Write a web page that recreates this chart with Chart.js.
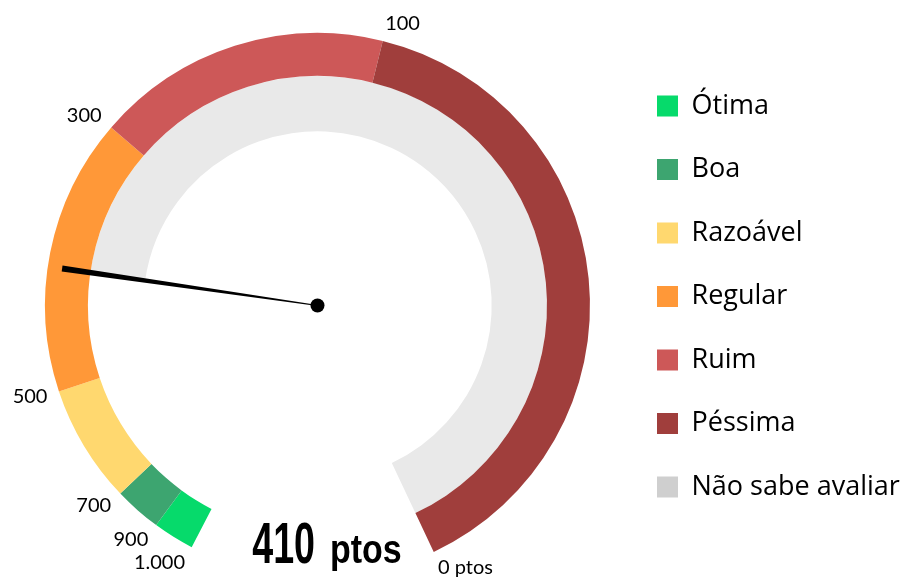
<!DOCTYPE html>
<html>
<head>
<meta charset="utf-8">
<script src="https://cdn.jsdelivr.net/npm/chart.js@4.4.1/dist/chart.umd.min.js"></script>
<style>
  body { margin: 0; background: #fff; }
  canvas { display: block; }
</style>
</head>
<body>
<canvas id="gauge" width="904" height="579"></canvas>
<script>
// bands of the dial, from 1.000 (start) to 0 ptos (end)
const categories = ["Ótima", "Boa", "Razoável", "Regular", "Ruim", "Péssima"];
const bandShares = [8.8, 10.05, 25.25, 59.2, 63.05, 140.9];
const bandColors = ["#06da6b", "#3da570", "#ffd86f", "#ff9838", "#cd5858", "#a03e3c"];

// tick labels sit on the band edges
const tickValues = [1000, 900, 700, 500, 300, 100, 0];
const tickLabels = ["1.000", "900", "700", "500", "300", "100", "0 ptos"];

// the score and the "don't know" ring
const score = 410;
const unknownLabel = "Não sabe avaliar";
const unknownColor = "#cfcfcf";
const ringGray = "#e9e9e9";

// how much of the dial lies between 1.000 and the score
function shareBefore(value) {
  let s = 0;
  for (let i = 0; i < bandShares.length; i++) {
    const hi = tickValues[i];
    const lo = tickValues[i + 1];
    if (value <= lo) {
      s += bandShares[i];
    } else {
      s += bandShares[i] * (hi - value) / (hi - lo);
      break;
    }
  }
  return s;
}

const totalShare = bandShares.reduce((a, b) => a + b, 0);
const before = shareBefore(score);
const scoreRing = [before, totalShare - before];

const legendNames = categories.concat([unknownLabel]);
const legendColors = bandColors.concat([unknownColor]);

// legend sizing so the chart area stays put
const legendFont = { family: "'Open Sans'", size: 27 };
const legendPad = 36.5;
const boxSize = 21;
const measure = document.createElement("canvas").getContext("2d");
measure.font = legendFont.size + "px " + legendFont.family;
let maxText = 0;
legendNames.forEach((n) => { maxText = Math.max(maxText, measure.measureText(n).width); });
// chart.js adds 10px to a vertical legend
const legendWidth = legendPad + boxSize + legendFont.size / 2 + maxText + 10;
const legendLeft = 657 - legendPad;

// ticks, needle and score text
const dialExtras = {
  id: "dialExtras",
  afterDatasetsDraw(chart) {
    const ctx = chart.ctx;
    const arcs = chart.getDatasetMeta(0).data;
    const cx = arcs[0].x;
    const cy = arcs[0].y;
    const outer = arcs[0].outerRadius;

    // tick labels
    const edges = [arcs[0].startAngle].concat(arcs.map((a) => a.endAngle));
    ctx.save();
    ctx.font = "20px Lato";
    ctx.fillStyle = "#000";
    ctx.textBaseline = "middle";
    edges.forEach((ang, i) => {
      const c = Math.cos(ang);
      const s = Math.sin(ang);
      const px = cx + (outer + 10) * c;
      const py = cy + (outer + 10) * s;
      ctx.textAlign = c >= 0 ? "left" : "right";
      ctx.fillText(tickLabels[i], px + (c >= 0 ? 0 : -2), py + s * 7.5);
    });
    ctx.restore();

    // needle at the score position
    const ang = chart.getDatasetMeta(1).data[1].startAngle;
    const len = outer * 0.947;
    const nx = Math.cos(ang);
    const ny = Math.sin(ang);
    ctx.save();
    ctx.fillStyle = "#000";
    ctx.beginPath();
    ctx.moveTo(cx - ny * 0.4, cy + nx * 0.4);
    ctx.lineTo(cx + nx * len - ny * 3, cy + ny * len + nx * 3);
    ctx.lineTo(cx + nx * len + ny * 3, cy + ny * len - nx * 3);
    ctx.lineTo(cx + ny * 0.4, cy - nx * 0.4);
    ctx.closePath();
    ctx.fill();
    ctx.beginPath();
    ctx.arc(cx, cy, 7, 0, Math.PI * 2);
    ctx.fill();
    ctx.restore();

    // score text
    ctx.save();
    ctx.fillStyle = "#000";
    ctx.textAlign = "left";
    ctx.textBaseline = "alphabetic";
    const bigFont = "bold 57px 'Liberation Sans'";
    const smallFont = "bold 40px 'Liberation Sans'";
    const bigScale = 0.66;
    const smallScale = 0.85;
    ctx.font = bigFont;
    const bigW = ctx.measureText(String(score)).width * bigScale;
    ctx.font = smallFont;
    const smallW = ctx.measureText("ptos").width * smallScale;
    const gap = 15;
    const left = cx + 9.5 - (bigW + gap + smallW) / 2;
    const base = cy + outer * 0.945;
    ctx.save();
    ctx.translate(left, base);
    ctx.scale(bigScale, 1);
    ctx.font = bigFont;
    ctx.fillText(String(score), 0, 0);
    ctx.restore();
    ctx.save();
    ctx.translate(left + bigW + gap, base);
    ctx.scale(smallScale, 1);
    ctx.font = smallFont;
    ctx.fillText("ptos", 0, 0);
    ctx.restore();
    ctx.restore();
  },
};

const ctx = document.getElementById("gauge").getContext("2d");
const chart = new Chart(ctx, {
  type: "doughnut",
  data: {
    labels: categories,
    datasets: [
      {
        data: bandShares,
        backgroundColor: bandColors,
        borderWidth: 0,
        weight: 43,
      },
      {
        data: scoreRing,
        backgroundColor: ["rgba(0,0,0,0)", ringGray],
        borderWidth: 0,
        weight: 55.3,
      },
    ],
  },
  options: {
    responsive: false,
    animation: false,
    rotation: -152.5,
    circumference: totalShare,
    radius: 272.5,
    cutout: "63.93%",
    layout: {
      padding: {
        left: 635 - legendLeft,
        right: 904 - legendLeft - legendWidth,
        top: 47.94,
        bottom: 42,
      },
    },
    plugins: {
      tooltip: { enabled: false },
      legend: {
        position: "right",
        align: "end",
        labels: {
          boxWidth: boxSize,
          boxHeight: boxSize,
          padding: legendPad,
          font: legendFont,
          color: "#000",
          generateLabels: () =>
            legendNames.map((name, i) => ({
              text: name,
              fillStyle: legendColors[i],
              strokeStyle: legendColors[i],
              lineWidth: 0,
              fontColor: "#000",
              hidden: false,
              index: i,
            })),
        },
      },
    },
  },
  plugins: [dialExtras],
});
</script>
</body>
</html>
